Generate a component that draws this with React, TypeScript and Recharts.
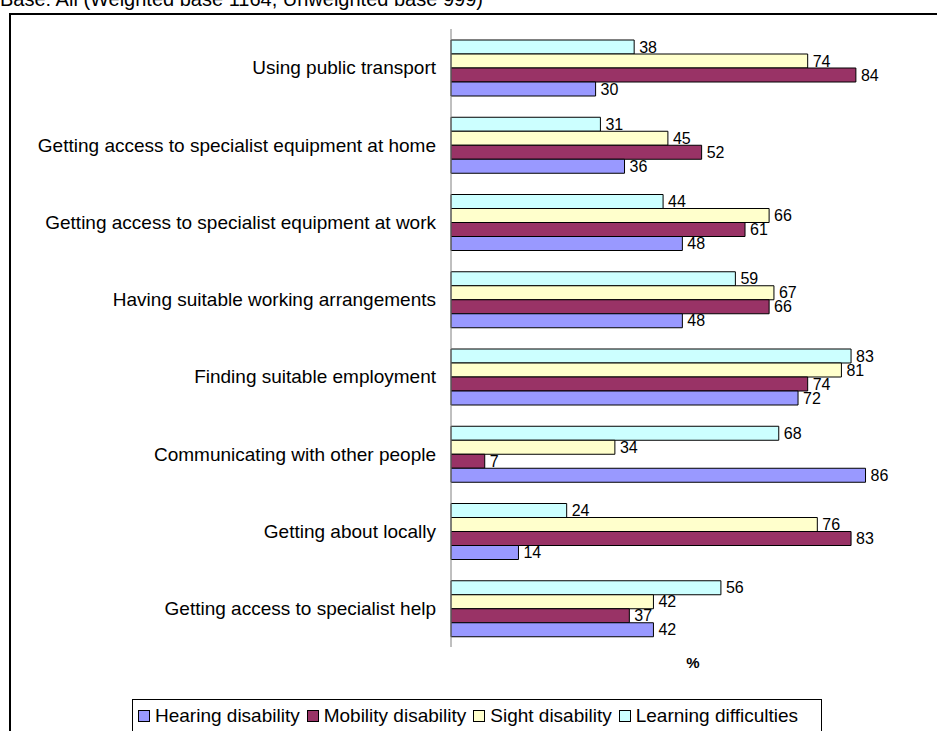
import { BarChart, Bar, XAxis, YAxis, LabelList } from "recharts";

const categories = [
  "Using public transport",
  "Getting access to specialist equipment at home",
  "Getting access to specialist equipment at work",
  "Having suitable working arrangements",
  "Finding suitable employment",
  "Communicating with other people",
  "Getting about locally",
  "Getting access to specialist help",
];

const hearing = [30, 36, 48, 48, 72, 86, 14, 42];
const mobility = [84, 52, 61, 66, 74, 7, 83, 37];
const sight = [74, 45, 66, 67, 81, 34, 76, 42];
const learning = [38, 31, 44, 59, 83, 68, 24, 56];

const baseNote = "Base: All (Weighted base 1164, Unweighted base 999)";

// legend order
const series = [
  { key: "hearing", name: "Hearing disability", color: "#9999FF" },
  { key: "mobility", name: "Mobility disability", color: "#993366" },
  { key: "sight", name: "Sight disability", color: "#FFFFCC" },
  { key: "learning", name: "Learning difficulties", color: "#CCFFFF" },
];

const data = categories.map((name, i) => ({
  name,
  hearing: hearing[i],
  mobility: mobility[i],
  sight: sight[i],
  learning: learning[i],
}));

const FONT = '"Liberation Sans", Arial, sans-serif';

export default function App() {
  // bars stack top-to-bottom in reverse legend order
  const barOrder = [...series].reverse();

  return (
    <div
      style={{
        position: "fixed",
        left: 0,
        top: 0,
        width: 937,
        height: 731,
        overflow: "hidden",
        background: "#fff",
        fontFamily: FONT,
      }}
    >
      <div
        style={{
          position: "absolute",
          left: 0,
          top: -12,
          fontSize: 20,
          whiteSpace: "nowrap",
          color: "#000",
        }}
      >
        {baseNote}
      </div>

      {/* outer frame */}
      <div
        style={{
          position: "absolute",
          left: 9,
          top: 13,
          width: 1000,
          height: 1000,
          border: "2px solid #000",
        }}
      />

      <div style={{ position: "absolute", left: 0, top: 0 }}>
        <BarChart
          width={937}
          height={731}
          data={data}
          layout="vertical"
          margin={{ top: 29, right: 4, bottom: 84, left: 11 }}
          barGap={0}
        >
          <XAxis type="number" domain={[0, 100]} hide />
          <YAxis
            type="category"
            dataKey="name"
            width={440}
            interval={0}
            tickLine={false}
            tickMargin={9}
            axisLine={{ stroke: "#808080" }}
            tick={{ fill: "#000", fontSize: 19, fontFamily: FONT }}
          />
          {barOrder.map((s) => (
            <Bar
              key={s.key}
              dataKey={s.key}
              name={s.name}
              fill={s.color}
              stroke="#000"
              strokeWidth={1}
              barSize={14}
              isAnimationActive={false}
            >
              <LabelList
                dataKey={s.key}
                position="right"
                offset={5}
                fill="#000"
                fontSize={16}
                fontFamily={FONT}
              />
            </Bar>
          ))}
        </BarChart>
      </div>

      <div
        style={{
          position: "absolute",
          left: 682,
          top: 654,
          width: 22,
          textAlign: "center",
          fontWeight: "bold",
          fontSize: 15,
        }}
      >
        %
      </div>

      {/* legend */}
      <div
        style={{
          position: "absolute",
          left: 132,
          top: 699,
          width: 690,
          height: 60,
          border: "1px solid #000",
          boxSizing: "border-box",
          display: "flex",
          alignItems: "flex-start",
          paddingTop: 5,
          paddingLeft: 5,
          fontSize: 19,
          gap: 7,
          whiteSpace: "nowrap",
        }}
      >
        {series.map((s) => (
          <div key={s.key} style={{ display: "flex", alignItems: "center" }}>
            <span
              style={{
                display: "inline-block",
                width: 10,
                height: 10,
                background: s.color,
                border: "1px solid #000",
                marginRight: 5,
              }}
            />
            {s.name}
          </div>
        ))}
      </div>
    </div>
  );
}
